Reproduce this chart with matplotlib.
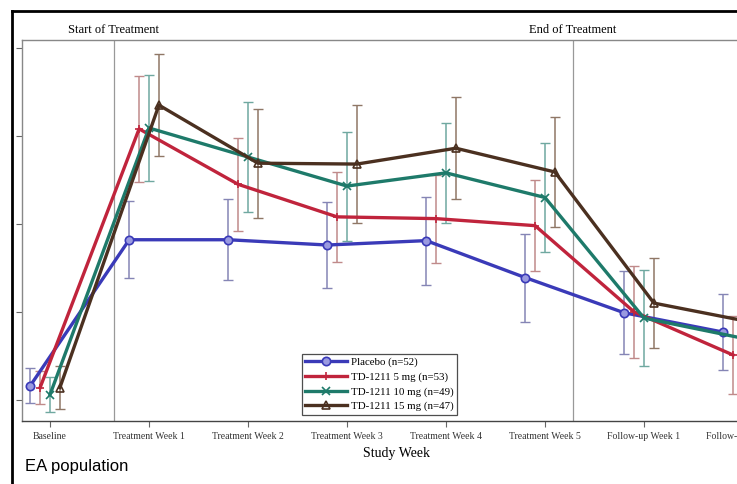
import numpy as np
import matplotlib
matplotlib.use("Agg")
import matplotlib.pyplot as plt
from matplotlib.lines import Line2D

plt.rcParams['font.family'] = ['Liberation Serif', 'DejaVu Serif']

weeks = ["Baseline", "Treatment Week 1", "Treatment Week 2", "Treatment Week 3",
         "Treatment Week 4", "Treatment Week 5", "Follow-up Week 1", "Follow-up Week 2"]

groups = ["Placebo (n=52)", "TD-1211 5 mg (n=53)", "TD-1211 10 mg (n=49)", "TD-1211 15 mg (n=47)"]

# means per group per week
placebo = [0.16, 1.82, 1.82, 1.76, 1.81, 1.39, 0.99, 0.77]
mg5 = [0.14, 3.08, 2.45, 2.08, 2.06, 1.98, 1.00, 0.51]
mg10 = [0.06, 3.09, 2.76, 2.43, 2.58, 2.30, 0.93, 0.70]
mg15 = [0.14, 3.35, 2.69, 2.68, 2.86, 2.59, 1.10, 0.88]

# error bar half widths
placebo_err = [0.20, 0.44, 0.46, 0.49, 0.50, 0.50, 0.47, 0.43]
mg5_err = [0.19, 0.60, 0.53, 0.51, 0.50, 0.52, 0.52, 0.44]
mg10_err = [0.20, 0.60, 0.62, 0.62, 0.57, 0.62, 0.55, 0.50]
mg15_err = [0.24, 0.58, 0.62, 0.67, 0.58, 0.63, 0.51, 0.50]

means = [placebo, mg5, mg10, mg15]
errs = [placebo_err, mg5_err, mg10_err, mg15_err]
colors = ['#3a3ab8', '#c0243c', '#1e7a6a', '#4b3020']
err_colors = ['#8585b5', '#c08a8a', '#6fa8a0', '#8f7766']
markers = ['o', '+', 'x', '^']
offsets = [-0.2, -0.1, 0.0, 0.1]

fig = plt.figure(figsize=(7.37, 4.84), dpi=100)
W, H = 737, 484
ax = fig.add_axes([22 / W, (H - 421) / H, (771 - 22) / W, (421 - 40) / H])

x = np.arange(len(weeks))
for m, e, c, ec, mk, off in zip(means, errs, colors, err_colors, markers, offsets):
    ax.errorbar(x + off, m, yerr=e, fmt='none', ecolor=ec, elinewidth=1.1,
                capsize=3.5, capthick=1.0, zorder=2)
for m, c, mk, off, g in zip(means, colors, markers, offsets, groups):
    mfc = '#9a9ae0' if mk == 'o' else 'none'
    ax.plot(x + off, m, color=c, lw=2.4, marker=mk, ms=6, mew=1.2,
            mfc=mfc, mec=c, label=g, zorder=3)

ax.axvline(0.646, color='#999999', lw=0.9, zorder=1)
ax.axvline(5.28, color='#999999', lw=0.9, zorder=1)

ax.set_xlim(-0.283, 7.283)
ax.set_ylim(-0.24, 4.09)
ax.set_xticks(x)
ax.set_xticklabels(weeks, fontsize=7, color='#333333')
ax.set_yticks([0, 1, 2, 3, 4])
ax.set_yticklabels([])
ax.tick_params(axis='both', length=4, color='#666666', width=0.8)
ax.tick_params(axis='x', pad=4)
for s in ax.spines.values():
    s.set_color('#888888')
    s.set_linewidth(1.0)
ax.spines['bottom'].set_color('#444444')

ax.set_xlabel("Study Week", fontsize=10, labelpad=4)

ax.text(0.646, 4.13, "Start of Treatment", ha='center', va='bottom', fontsize=9)
ax.text(5.28, 4.13, "End of Treatment", ha='center', va='bottom', fontsize=9)

leg = ax.legend(loc='lower left', bbox_to_anchor=(0.374, 0.017), fontsize=7.8,
                frameon=True, fancybox=False, edgecolor='#222222',
                borderpad=0.3, labelspacing=0.45, handlelength=3.8,
                handletextpad=0.4, borderaxespad=0)
leg.get_frame().set_linewidth(0.9)

# outer frame of the original picture
fig.add_artist(Line2D([12 / W, 12 / W], [0, (H - 11) / H], color='black', lw=2))
fig.add_artist(Line2D([12 / W, 1.0], [(H - 11) / H, (H - 11) / H], color='black', lw=2))

fig.text(25 / W, (H - 467) / H, "EA population", fontsize=12, va='center',
         ha='left', family='Liberation Sans')

fig.savefig("out.png", dpi=100)
